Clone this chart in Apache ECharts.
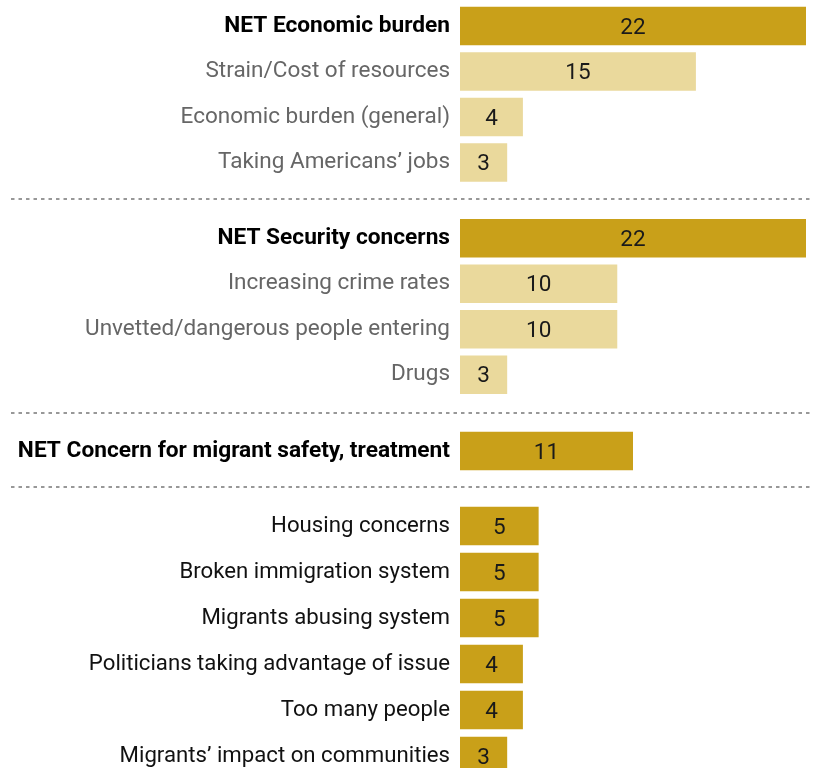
<!DOCTYPE html>
<html><head><meta charset="utf-8">
<script src="https://cdn.jsdelivr.net/npm/echarts@6/dist/echarts.min.js"></script>
<style>html,body{margin:0;padding:0;background:#fff;overflow:hidden}#c{width:813px;height:820px}</style>
</head><body><div id="c"></div>
<script>
// Group 1: economic
const catsEcon = ['NET Economic burden','Strain/Cost of resources','Economic burden (general)','Taking Americans\u2019 jobs'];
const valsEcon = [22, 15, 4, 3];
// Group 2: security
const catsSec = ['NET Security concerns','Increasing crime rates','Unvetted/dangerous people entering','Drugs'];
const valsSec = [22, 10, 10, 3];
// Group 3: migrant safety
const catsSafe = ['NET Concern for migrant safety, treatment'];
const valsSafe = [11];
// Group 4: other
const catsOther = ['Housing concerns','Broken immigration system','Migrants abusing system','Politicians taking advantage of issue','Too many people','Migrants\u2019 impact on communities'];
const valsOther = [5, 5, 5, 4, 4, 3];

const DARK = '#C9A019', LIGHT = '#EAD99C';
const FONT = 'Roboto';

function labelStyle(kind) {
  if (kind === 'net') return {fontWeight: 'bold', color: '#000', fontFamily: FONT, fontSize: 22.7};
  if (kind === 'sub') return {color: '#666', fontFamily: FONT, fontSize: 22.5};
  return {color: '#111', fontFamily: FONT, fontSize: 22.2};
}
function kinds(cats, group) {
  return cats.map(c => group === 'other' ? 'other' : (c.startsWith('NET') ? 'net' : 'sub'));
}

const groupsDef = [
  {cats: catsEcon, vals: valsEcon, g: 'net', top: 3.25, h: 182},
  {cats: catsSec, vals: valsSec, g: 'net', top: 215.5, h: 182},
  {cats: catsSafe, vals: valsSafe, g: 'net', top: 428.25, h: 45.5},
  {cats: catsOther, vals: valsOther, g: 'other', top: 503, h: 276}
];

const grid = [], xAxis = [], yAxis = [], series = [];
groupsDef.forEach((gd, i) => {
  const k = kinds(gd.cats, gd.g);
  grid.push({left: 460, right: 7, top: gd.top, height: gd.h, containLabel: false});
  xAxis.push({type: 'value', gridIndex: i, min: 0, max: 22, show: false});
  yAxis.push({
    type: 'category', gridIndex: i, inverse: true,
    data: gd.cats.map((c, j) => ({value: c, textStyle: labelStyle(k[j])})),
    axisLine: {show: false}, axisTick: {show: false}, splitLine: {show: false},
    axisLabel: {margin: 10}
  });
  series.push({
    type: 'bar', xAxisIndex: i, yAxisIndex: i, barWidth: 38.5,
    data: gd.vals.map((v, j) => ({value: v, itemStyle: {color: k[j] === 'sub' ? LIGHT : DARK}})),
    label: {show: true, position: 'inside', color: '#1a1a1a', fontSize: 22.5, fontFamily: FONT, offset: [0, 2]},
    silent: true
  });
});

const sepY = [199, 413, 487];
const graphic = sepY.map(y => ({
  type: 'line', shape: {x1: 11, y1: y, x2: 813, y2: y},
  style: {stroke: '#777', lineWidth: 1.5, lineDash: [3.5, 4]}
}));

const chart = echarts.init(document.getElementById('c'));
chart.setOption({animation: false, grid, xAxis, yAxis, series, graphic});
</script></body></html>
